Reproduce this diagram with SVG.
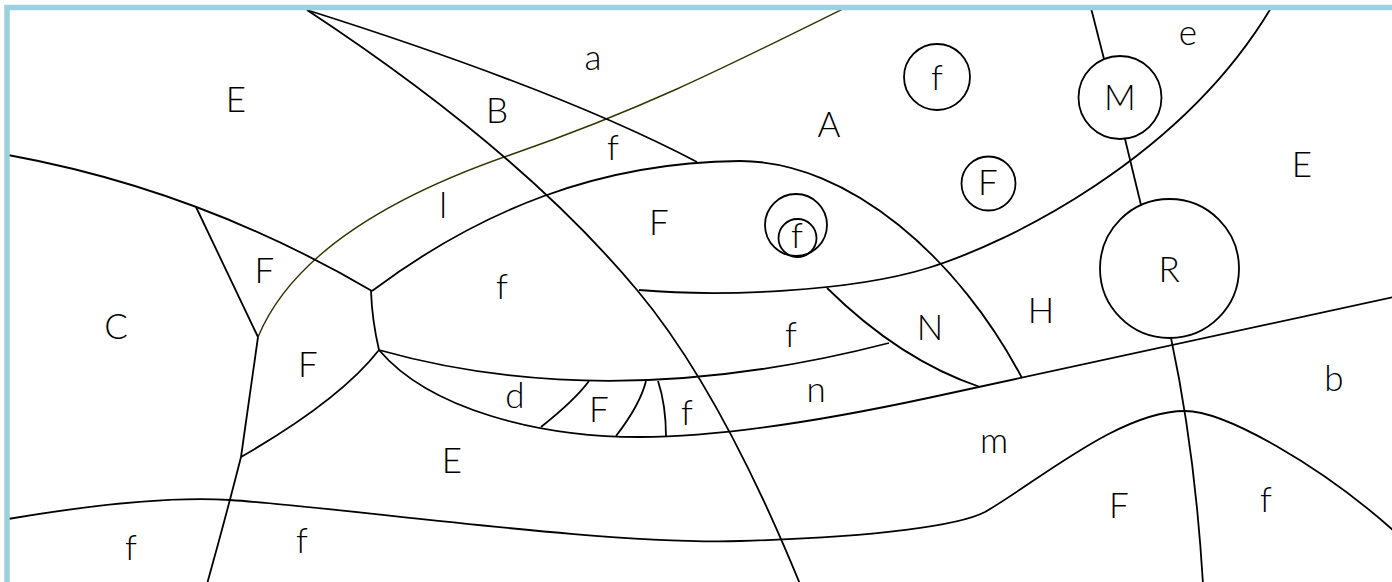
<svg xmlns="http://www.w3.org/2000/svg" width="1392" height="582" viewBox="0 0 1392 582">
<style>
.ln{fill:none;stroke:#000;stroke-width:1.8;stroke-linejoin:round}
.ol{fill:none;stroke:#333300;stroke-width:1.4}
.nd{fill:none;stroke:#000;stroke-width:1.8}
text{font-family:Lato,"Open Sans","DejaVu Sans",sans-serif;font-weight:300;font-size:35px;fill:#000;text-anchor:middle}
.sm{font-size:35px}
</style>
<rect x="0" y="0" width="1392" height="582" fill="#fff"/>
<g id="connectors">
<path class="ol" d="M258,337 C290,260 380,200 510,155 S720,70 845,8"/>
<path class="ln" d="M307,10 Q520,150 637,290 Q720,389 800,584"/>
<path class="ln" d="M307,10 Q560,90 697,162"/>
<path class="ln" d="M372,291 C480,210 600,162 740,161 C850,161 960,260 1022,378"/>
<path class="ln" d="M639,290 C720,297 850,292 928,268 C1006,244 1180,160 1271,8"/>
<path class="ln" d="M8,155 Q200,190 372,291"/>
<path class="ln" d="M196,207 L258,337"/>
<path class="ln" d="M258,337 L241,457 Q225,520 207,584"/>
<path class="ln" d="M241,457 Q340,400 379,350"/>
<path class="ln" d="M371,291 Q372,320 379,350"/>
<path class="ln" d="M379,350 Q610,415 889,343"/>
<path class="ln" d="M379,350 C430,410 540,437 640,437 C720,437 830,419 928,398 L1394,297"/>
<path class="ln" d="M541,427 Q575,400 589,381"/>
<path class="ln" d="M616,436 Q640,405 646,381"/>
<path class="ln" d="M658,381 Q666,405 666,437"/>
<path class="ln" d="M827,288 Q900,360 980,387"/>
<path class="ln" d="M1091,8 L1104,59"/>
<path class="ln" d="M1125,139 L1141,205"/>
<path class="ln" d="M1171,338 Q1195,450 1203,584"/>
<path class="ln" d="M8,519 Q150,495 230,500 C350,508 600,545 740,541 C880,537 960,525 985,512 C1040,480 1120,411 1185,411 C1225,411 1320,465 1394,531"/>
</g>
<g id="node-f-top"><circle class="nd" cx="937" cy="77" r="33"/><text x="937" y="90">f</text></g>
<g id="node-F-circle"><circle class="nd" cx="988.5" cy="183.5" r="27"/><text x="988" y="195">F</text></g>
<g id="node-nested"><circle class="nd" cx="796" cy="225" r="31"/><circle class="nd" cx="797.5" cy="238" r="19"/><text x="797" y="248">f</text></g>
<g id="node-M"><circle class="nd" cx="1120" cy="97.5" r="41.5"/><text x="1120" y="110">M</text></g>
<g id="node-R"><circle class="nd" cx="1169.5" cy="268.5" r="69.5"/><text x="1169" y="282">R</text></g>
<g id="labels">
<text x="236" y="112">E</text>
<text x="593" y="70">a</text>
<text x="497" y="123">B</text>
<text x="613" y="160">f</text>
<text x="829" y="137">A</text>
<text x="443" y="218">l</text>
<text x="264.5" y="283">F</text>
<text x="659" y="235">F</text>
<text x="502" y="299">f</text>
<text x="1188" y="45">e</text>
<text x="1302" y="177">E</text>
<text x="116" y="339">C</text>
<text x="308" y="377">F</text>
<text x="452" y="473">E</text>
<text x="131" y="560">f</text>
<text x="302" y="553">f</text>
<text x="791" y="347">f</text>
<text x="515" y="408">d</text>
<text x="599" y="422">F</text>
<text x="687" y="425">f</text>
<text x="816" y="402">n</text>
<text x="930" y="340">N</text>
<text x="1041" y="323">H</text>
<text x="1334" y="391">b</text>
<text x="994" y="453">m</text>
<text x="1119" y="518">F</text>
<text x="1266" y="512">f</text>
</g>
<rect x="7" y="7.5" width="1500" height="700" fill="none" stroke="#9dcfdf" stroke-width="5.5"/>
</svg>
